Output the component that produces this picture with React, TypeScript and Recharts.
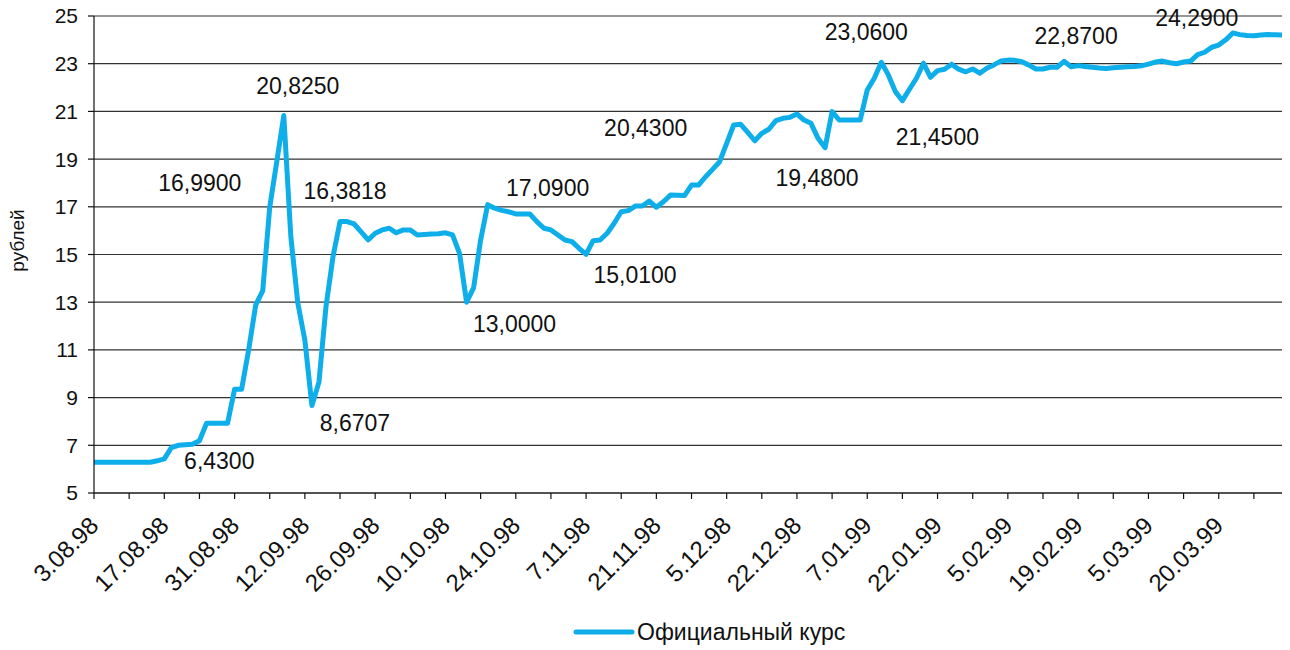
import { LineChart, Line, XAxis, YAxis, CartesianGrid, Legend } from 'recharts';

const tickLabels = [
  '3.08.98', '17.08.98', '31.08.98', '12.09.98', '26.09.98', '10.10.98',
  '24.10.98', '7.11.98', '21.11.98', '5.12.98', '22.12.98', '7.01.99',
  '22.01.99', '5.02.99', '19.02.99', '5.03.99', '20.03.99',
];

// официальный курс, руб. за доллар, по торговым дням
const rate = [
  6.29, 6.29, 6.29, 6.29, 6.29, 6.29, 6.29, 6.29, 6.29, 6.35,
  6.43, 6.9, 7.0, 7.02, 7.04, 7.19, 7.92, 7.92, 7.92, 7.92,
  9.35, 9.35, 11.0, 12.88, 13.47, 16.99, 18.89, 20.825, 15.75, 12.95,
  11.4, 8.6707, 9.65, 12.81, 14.91, 16.3818, 16.38, 16.28, 15.95, 15.61,
  15.89, 16.03, 16.1, 15.91, 16.03, 16.03, 15.82, 15.84, 15.86, 15.87,
  15.91, 15.82, 15.05, 13.0, 13.6, 15.61, 17.09, 16.94, 16.85, 16.79,
  16.7, 16.7, 16.7, 16.38, 16.1, 16.03, 15.82, 15.61, 15.54, 15.26,
  15.01, 15.58, 15.61, 15.89, 16.31, 16.79, 16.84, 17.03, 17.03, 17.24,
  16.98, 17.21, 17.49, 17.48, 17.47, 17.91, 17.91, 18.26, 18.57, 18.89,
  19.66, 20.43, 20.46, 20.12, 19.77, 20.08, 20.25, 20.61, 20.71, 20.75,
  20.89, 20.64, 20.5, 19.87, 19.48, 20.99, 20.64, 20.64, 20.64, 20.64,
  21.9, 22.39, 23.06, 22.53, 21.83, 21.45, 21.93, 22.39, 23.02, 22.43,
  22.71, 22.77, 22.98, 22.77, 22.66, 22.78, 22.6, 22.81, 22.95, 23.11,
  23.15, 23.14, 23.08, 22.94, 22.78, 22.78, 22.85, 22.85, 23.1, 22.87,
  22.92, 22.88, 22.85, 22.82, 22.8, 22.83, 22.85, 22.87, 22.88, 22.91,
  22.98, 23.07, 23.11, 23.04, 23.0, 23.07, 23.11, 23.38, 23.48, 23.69,
  23.78, 24.0, 24.29, 24.22, 24.18, 24.17, 24.2, 24.22, 24.21, 24.2,
];

const yTicks = [5, 7, 9, 11, 13, 15, 17, 19, 21, 23, 25];

const data = rate.map((v, i) => ({ day: i, rate: v }));

const LINE = '#0DAEE9';
const FONT = '"Liberation Sans", Arial, sans-serif';

// подписи значений: индекс точки -> сдвиг текста
const noteShift: Record<number, [number, number]> = {
  10: [55, 2],
  25: [-70, -24],
  27: [14, -30],
  31: [43, 18],
  35: [5, -31],
  53: [48, 22],
  56: [60, -17],
  70: [49, 21],
  91: [-88, 3],
  104: [-8, 30],
  112: [-15, -30],
  115: [35, 36],
  139: [5, -31],
  162: [-36, -15],
};

function DateTick(props: any) {
  const { x, y, payload } = props;
  const i = payload.value as number;
  if (i % 10 !== 0) return <g />;
  const ax = x + 6;
  const ay = y + 26;
  return (
    <text
      x={ax}
      y={ay}
      transform={`rotate(-45 ${ax} ${ay})`}
      textAnchor="end"
      fontSize={24}
      fontFamily={FONT}
      fill="#111"
    >
      {tickLabels[i / 10]}
    </text>
  );
}

function renderNote(props: any) {
  const { x, y, index, value } = props;
  const shift = noteShift[index];
  if (!shift) return <g />;
  return (
    <text
      x={x + shift[0]}
      y={y + shift[1]}
      textAnchor="middle"
      dominantBaseline="central"
      fontSize={23}
      fontFamily={FONT}
      fill="#111"
    >
      {Number(value).toFixed(4).replace('.', ',')}
    </text>
  );
}

function LegendBox() {
  return (
    <div style={{ display: 'flex', alignItems: 'center', paddingLeft: 565, height: 30 }}>
      <svg width={62} height={10}>
        <line x1={3} x2={59} y1={5} y2={5} stroke={LINE} strokeWidth={5} strokeLinecap="round" />
      </svg>
      <span style={{ fontFamily: FONT, fontSize: 23, color: '#111', marginLeft: 2 }}>
        Официальный курс
      </span>
    </div>
  );
}

export default function App() {
  return (
    <div style={{ margin: '-8px 0 0 -8px' }}>
      <LineChart
        width={1290}
        height={650}
        data={data}
        margin={{ top: 16, right: 8, left: 8, bottom: 3 }}
      >
        <CartesianGrid vertical={false} stroke="#333" strokeWidth={1.2} />
        <XAxis
          dataKey="day"
          interval={4}
          height={124}
          tick={<DateTick />}
          tickSize={6}
          axisLine={{ stroke: '#111', strokeWidth: 1.2 }}
          tickLine={{ stroke: '#111', strokeWidth: 1.2 }}
        />
        <YAxis
          width={86}
          domain={[5, 25]}
          ticks={yTicks}
          interval={0}
          tickSize={6}
          tickMargin={10}
          tick={{ fontSize: 21, fontFamily: FONT, fill: '#111' }}
          axisLine={{ stroke: '#111', strokeWidth: 1.2 }}
          tickLine={{ stroke: '#111', strokeWidth: 1.2 }}
          label={{
            value: 'рублей',
            angle: -90,
            position: 'insideLeft',
            offset: 9,
            dy: -14,
            style: { fontSize: 19, fontFamily: FONT, fill: '#111', textAnchor: 'middle' },
          }}
        />
        <Legend verticalAlign="bottom" height={30} content={<LegendBox />} />
        <Line
          type="linear"
          dataKey="rate"
          stroke={LINE}
          strokeWidth={5}
          strokeLinejoin="round"
          dot={false}
          isAnimationActive={false}
          label={renderNote}
          legendType="line"
        />
      </LineChart>
    </div>
  );
}
